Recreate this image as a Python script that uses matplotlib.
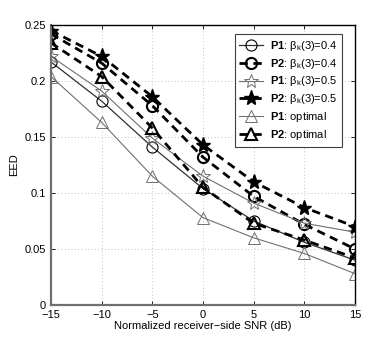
import matplotlib
matplotlib.use("Agg")
import matplotlib.pyplot as plt

plt.rcParams['font.family'] = ['Liberation Sans', 'DejaVu Sans']
plt.rcParams['mathtext.fontset'] = 'custom'
plt.rcParams['mathtext.rm'] = 'Liberation Sans'
plt.rcParams['mathtext.it'] = 'Liberation Sans'
plt.rcParams['mathtext.bf'] = 'Liberation Sans:bold'

snr = [-15, -10, -5, 0, 5, 10, 15]
p1_b04 = [0.217, 0.182, 0.141, 0.104, 0.075, 0.056, 0.040]
p2_b04 = [0.242, 0.216, 0.178, 0.132, 0.097, 0.072, 0.050]
p1_b05 = [0.222, 0.191, 0.149, 0.115, 0.091, 0.073, 0.065]
p2_b05 = [0.245, 0.222, 0.186, 0.143, 0.110, 0.087, 0.070]
p1_opt = [0.204, 0.163, 0.115, 0.078, 0.060, 0.046, 0.028]
p2_opt = [0.234, 0.204, 0.158, 0.105, 0.073, 0.058, 0.042]

xticks = [-15, -10, -5, 0, 5, 10, 15]
yticks = [0, 0.05, 0.1, 0.15, 0.2, 0.25]
yticklabels = ['0', '0.05', '0.1', '0.15', '0.2', '0.25']

fig = plt.figure(figsize=(3.92, 3.43), dpi=100)
ax = fig.add_axes([51/392, 1-305/343, 304/392, 280/343])

gray = '#707070'
ax.plot(snr, p1_b04, '-', color='#303030', lw=0.9, marker='o', ms=8, mfc='none', mec='black', mew=0.8,
        label=r'$\mathbf{P1}$: $\beta_k(3)$=0.4')
ax.plot(snr, p2_b04, '--', color='black', lw=2.0, dashes=(3, 2), marker='o', ms=8, mfc='none', mec='black', mew=1.5,
        label=r'$\mathbf{P2}$: $\beta_k(3)$=0.4')
ax.plot(snr, p1_b05, '-', color=gray, lw=0.8, marker='*', ms=10, mfc='none', mec=gray, mew=0.7,
        label=r'$\mathbf{P1}$: $\beta_k(3)$=0.5')
ax.plot(snr, p2_b05, '--', color='black', lw=2.0, dashes=(3, 2), marker='*', ms=11, mfc='black', mec='black', mew=1.0,
        label=r'$\mathbf{P2}$: $\beta_k(3)$=0.5')
ax.plot(snr, p1_opt, '-', color=gray, lw=0.8, marker='^', ms=9, mfc='none', mec=gray, mew=0.7,
        label=r'$\mathbf{P1}$: optimal')
ax.plot(snr, p2_opt, '--', color='black', lw=2.0, dashes=(3, 2), marker='^', ms=9, mfc='none', mec='black', mew=1.5,
        label=r'$\mathbf{P2}$: optimal')

ax.set_xlim(-15, 15)
ax.set_ylim(0, 0.25)
ax.set_xticks(xticks)
ax.set_xticklabels([str(t).replace('-', '\u2212') for t in xticks])
ax.set_yticks(yticks)
ax.set_yticklabels(yticklabels)
ax.tick_params(direction='in', labelsize=8, length=3, width=0.6, top=True, right=True)
ax.grid(True, linestyle=(0, (1, 3)), color='#b0b0b0', lw=0.6)
for s in ['top', 'right']:
    ax.spines[s].set_color('black')
    ax.spines[s].set_linewidth(1.0)
for s in ['left', 'bottom']:
    ax.spines[s].set_color(gray)
    ax.spines[s].set_linewidth(1.6)

ax.set_xlabel('Normalized receiver\u2212side SNR (dB)', fontsize=8, labelpad=1)
ax.set_ylabel('EED', fontsize=8, labelpad=4)

leg = ax.legend(loc='upper right', bbox_to_anchor=(0.965, 0.975), fontsize=8, frameon=True, fancybox=False,
                edgecolor='#404040', framealpha=1, handlelength=2.2, handletextpad=0.6, borderpad=0.4,
                labelspacing=0.35, borderaxespad=0.2)
leg.get_frame().set_linewidth(0.8)

fig.savefig('out.png', dpi=100)
